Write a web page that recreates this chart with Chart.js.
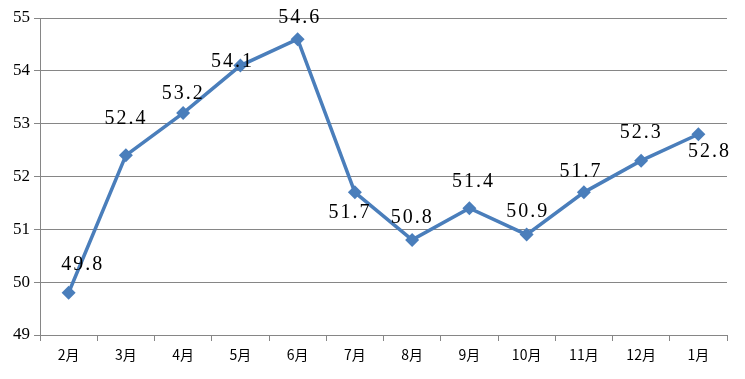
<!DOCTYPE html>
<html>
<head>
<meta charset="utf-8">
<script src="https://cdn.jsdelivr.net/npm/chart.js@4/dist/chart.umd.min.js"></script>
<style>
  html, body { margin: 0; padding: 0; background: #fff; }
  #wrap { width: 745px; height: 379px; }
</style>
</head>
<body>
<div id="wrap"><canvas id="chart"></canvas></div>
<script>
const months = ['2月', '3月', '4月', '5月', '6月', '7月', '8月', '9月', '10月', '11月', '12月', '1月'];
const values = [49.8, 52.4, 53.2, 54.1, 54.6, 51.7, 50.8, 51.4, 50.9, 51.7, 52.3, 52.8];
// where each value label sits relative to its point (dx, dy in px)
const labelOffsets = [[14, -28], [0, -37], [0, -19], [-8, -4], [2, -21], [-5, 20],
                      [0, -22], [4, -26], [1, -23], [-3, -21], [0, -28], [11, 18]];

const gridColor = '#868686';
const lineColor = '#4a7ebb';

const valueLabels = {
  id: 'valueLabels',
  afterDatasetsDraw(chart) {
    const ctx = chart.ctx;
    const meta = chart.getDatasetMeta(0);
    ctx.save();
    ctx.font = '20px "Liberation Serif", "DejaVu Serif", serif';
    ctx.letterSpacing = '2px';
    ctx.fillStyle = '#000';
    ctx.textAlign = 'center';
    ctx.textBaseline = 'middle';
    meta.data.forEach((pt, i) => {
      const off = labelOffsets[i];
      ctx.fillText(values[i].toFixed(1), pt.x + off[0], pt.y + off[1]);
    });
    ctx.restore();
  }
};

new Chart(document.getElementById('chart'), {
  type: 'line',
  data: {
    labels: months,
    datasets: [{
      data: values,
      borderColor: lineColor,
      backgroundColor: lineColor,
      borderWidth: 3.5,
      pointStyle: 'rectRot',
      pointRadius: 7,
      pointBorderWidth: 0,
      tension: 0
    }]
  },
  options: {
    responsive: true,
    maintainAspectRatio: false,
    animation: false,
    layout: { padding: { top: 18, right: 18, left: 0, bottom: 0 } },
    plugins: { legend: { display: false }, tooltip: { enabled: false } },
    scales: {
      x: {
        offset: true,
        grid: { offset: true, drawOnChartArea: false, color: gridColor, tickLength: 6 },
        border: { color: gridColor, width: 1 },
        ticks: { color: '#000', font: { family: '"Noto Sans CJK SC", sans-serif', size: 14 }, padding: 5 },
        afterFit(scale) { scale.height = 44; }
      },
      y: {
        min: 49,
        max: 55,
        grid: { color: gridColor, tickLength: 6 },
        border: { color: gridColor, width: 1 },
        ticks: { stepSize: 1, color: '#000', font: { family: '"Liberation Serif", serif', size: 17 }, padding: 4 },
        afterFit(scale) { scale.width = 40; }
      }
    }
  },
  plugins: [valueLabels]
});
</script>
</body>
</html>
